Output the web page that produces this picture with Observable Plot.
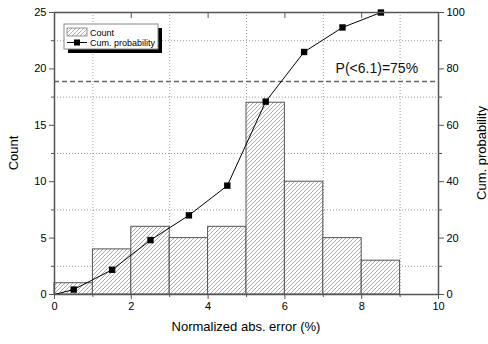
<!DOCTYPE html>
<html><head><meta charset="utf-8">
<script src="https://cdn.jsdelivr.net/npm/d3@7"></script>
<script src="https://cdn.jsdelivr.net/npm/@observablehq/plot@0.6"></script>
<style>body{margin:0;background:#fff;font-family:"Liberation Sans",Arial,sans-serif}</style>
</head><body><div id="chart"></div>
<script>
const binStart = [0,1,2,3,4,5,6,7,8];
const binEnd   = [1,2,3,4,5,6,7,8,9];
const counts   = [1,4,6,5,6,17,10,5,3];
const cumX     = [0,0.5,1.5,2.5,3.5,4.5,5.5,6.5,7.5,8.5];
const cumProb  = [0,1.75,8.77,19.3,28.07,38.6,68.4,86.0,94.7,100];
const xTicks = [0,2,4,6,8,10];
const xMinor = [1,3,5,7,9];
const yTicks = [0,5,10,15,20,25];
const yMinor = [2.5,7.5,12.5,17.5,22.5];
const probTicks = [0,20,40,60,80,100];
const thresholdProb = 75.5;
const annotation = "P(<6.1)=75%";

const bars = binStart.map((s,i)=>({x1:s,x2:binEnd[i],y:counts[i]}));
const cum = cumX.map((x,i)=>({x, y:cumProb[i]/4}));
const gray = "#555";

const chart = Plot.plot({
  width:488, height:344,
  marginLeft:54, marginRight:50, marginTop:12, marginBottom:50,
  style:{fontFamily:"Liberation Sans, Arial, sans-serif", fontSize:"11px", background:"#fff"},
  x:{domain:[0,10]},
  y:{domain:[0,25]},
  marks:[
    Plot.ruleX(xMinor,{stroke:"#999",strokeDasharray:"1,2",strokeWidth:1}),
    Plot.ruleY(yMinor,{stroke:"#999",strokeDasharray:"1,2",strokeWidth:1}),
    Plot.rectY(bars,{x1:"x1",x2:"x2",y:"y",fill:"url(#hatch)",stroke:gray,strokeWidth:1}),
    Plot.ruleY([thresholdProb/4],{stroke:"#666",strokeWidth:1.5,strokeDasharray:"5,3"}),
    Plot.text([annotation],{x:7.32,y:20,text:d=>d,fontSize:14,fill:"#111",textAnchor:"start",lineAnchor:"middle"}),
    Plot.line(cum,{x:"x",y:"y",stroke:"#000",strokeWidth:1}),
    Plot.dot(cum.slice(1),{x:"x",y:"y",symbol:"square",r:3.6,fill:"#000",stroke:"none"}),
    Plot.axisX({ticks:xTicks,tickSize:5,tickPadding:3,fontSize:11,label:null,stroke:gray}),
    Plot.axisX({ticks:xMinor,tickSize:3,label:null,text:null,stroke:gray}),
    Plot.axisX({anchor:"top",ticks:[2,4,6,8],tickSize:-5,text:null,label:null,stroke:gray}),
    Plot.axisY({ticks:yTicks,tickSize:5,tickPadding:3,fontSize:11,label:null,stroke:gray}),
    Plot.axisY({ticks:yMinor,tickSize:3,text:null,label:null,stroke:gray}),
    Plot.axisY({anchor:"right",ticks:yTicks,tickFormat:d=>d*4,tickSize:5,tickPadding:3,fontSize:11,label:null,stroke:gray}),
    Plot.axisY({anchor:"right",ticks:yMinor,tickSize:3,text:null,label:null,stroke:gray}),
    Plot.frame({stroke:gray,strokeWidth:1.5})
  ]
});

const svg = d3.select(chart);
const defs = svg.insert("defs",":first-child");
const pat = defs.append("pattern").attr("id","hatch").attr("patternUnits","userSpaceOnUse")
  .attr("width",4).attr("height",4);
pat.append("rect").attr("width",4).attr("height",4).attr("fill","#fff");
pat.append("path").attr("d","M-1,1 l2,-2 M0,4 l4,-4 M3,5 l2,-2").attr("stroke","#888").attr("stroke-width",0.7);

// axis titles
svg.append("text").attr("x",246).attr("y",331).attr("text-anchor","middle")
  .attr("font-size",13).attr("fill","#000").text("Normalized abs. error (%)");
svg.append("text").attr("transform","translate(18,153) rotate(-90)").attr("text-anchor","middle")
  .attr("font-size",13).attr("fill","#000").text("Count");
svg.append("text").attr("transform","translate(486,153) rotate(-90)").attr("text-anchor","middle")
  .attr("font-size",13).attr("fill","#000").text("Cum. probability");

// legend
const lg = svg.append("g").attr("font-size",9).attr("text-anchor","start");
lg.append("rect").attr("x",68).attr("y",28).attr("width",94).attr("height",25).attr("fill","#000");
lg.append("rect").attr("x",64).attr("y",24).attr("width",94).attr("height",25).attr("fill","#fff").attr("stroke","#888");
lg.append("rect").attr("x",67).attr("y",28).attr("width",20).attr("height",8).attr("fill","url(#hatch)").attr("stroke","#666").attr("stroke-width",0.7);
lg.append("text").attr("x",90).attr("y",35.5).attr("fill","#000").text("Count");
lg.append("line").attr("x1",67).attr("x2",87).attr("y1",42.5).attr("y2",42.5).attr("stroke","#000");
lg.append("rect").attr("x",74).attr("y",39.5).attr("width",6).attr("height",6).attr("fill","#000");
lg.append("text").attr("x",90).attr("y",46).attr("fill","#000").text("Cum. probability");

document.getElementById("chart").appendChild(chart);
</script></body></html>
